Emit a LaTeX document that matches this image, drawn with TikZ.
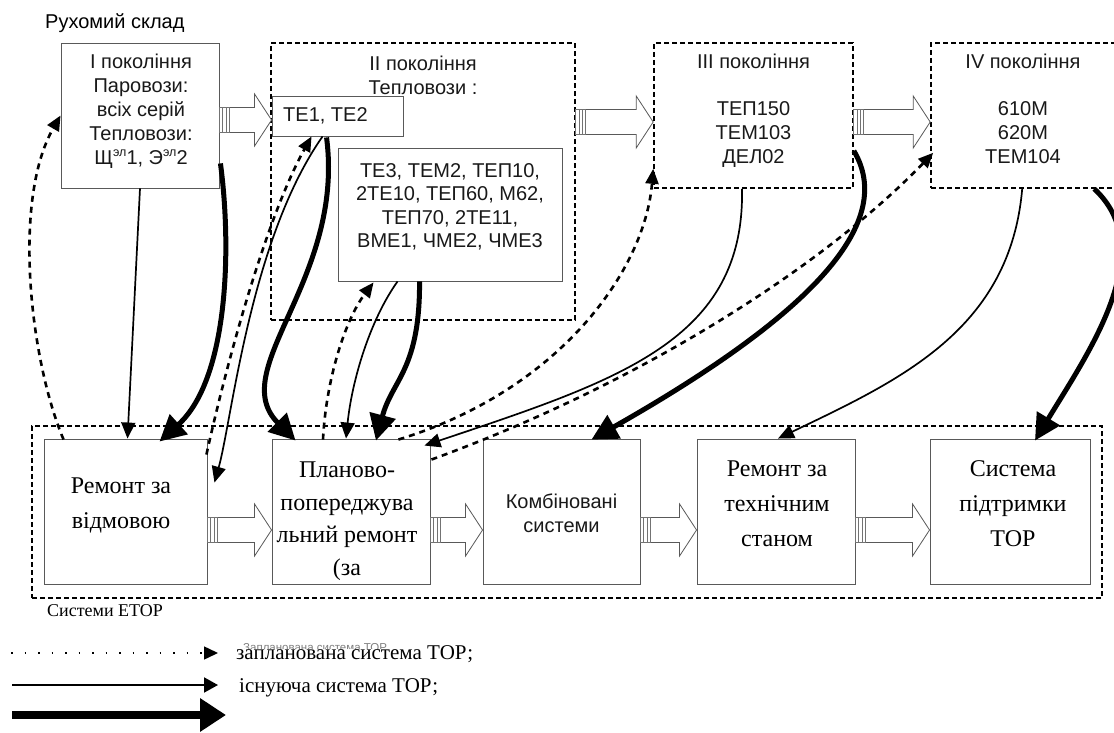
\documentclass[tikz,border=0pt]{standalone}
\usepackage{fontspec}
\setmainfont{Liberation Serif}
\setsansfont{Liberation Sans}
\usetikzlibrary{arrows.meta,calc}

\newcommand{\supsml}[1]{\raisebox{0.4em}{\fontsize{12.5}{10}\selectfont #1}}

\newcommand{\blockarr}[3]{%
 \draw[blkout] let \p1=(#1.east), \p2=(#2.west) in
   (\x1+10pt,-#3pt+12.5pt) -- (\x2-17pt,-#3pt+12.5pt) -- (\x2-17pt,-#3pt+26pt) -- (\x2,-#3pt)
   -- (\x2-17pt,-#3pt-26pt) -- (\x2-17pt,-#3pt-12.5pt) -- (\x1+10pt,-#3pt-12.5pt);
 \draw[blkstripe] let \p1=(#1.east) in
   (\x1,-#3pt+12.5pt) rectangle (\x1+10pt,-#3pt-12.5pt)
   (\x1+3.3pt,-#3pt+12.5pt) -- (\x1+3.3pt,-#3pt-12.5pt)
   (\x1+6.6pt,-#3pt+12.5pt) -- (\x1+6.6pt,-#3pt-12.5pt);
}

\tikzset{
 dbox/.style={draw=black, dash pattern=on 5pt off 3pt, line width=1.6pt, inner sep=0pt},
 sbox/.style={draw=black!65, line width=0.9pt, fill=white, inner sep=0pt},
 stxt/.style={font=\sffamily\fontsize{20}{24}\selectfont, align=center, inner sep=0pt, text=black!90},
 rtxt/.style={font=\rmfamily\fontsize{24}{35}\selectfont, align=center, inner sep=0pt},
 thickarr/.style={line width=5pt, -{Triangle[length=26pt,width=26pt]}},
 thinarr/.style={line width=1.7pt, -{Triangle[length=16pt,width=14pt]}},
 plannedarr/.style={line width=2.6pt, dash pattern=on 6pt off 5pt, -{Triangle[length=15pt,width=13pt]}},
 blkstripe/.style={draw=black!55, line width=0.7pt},
 blkout/.style={draw=black!65, line width=0.8pt, fill=white},
}

\begin{document}
\begin{tikzpicture}[x=1pt,y=-1pt]
\path[use as bounding box] (0,0) rectangle (1114,733);
\clip (0,0) rectangle (1114,733);
\fill[white] (0,0) rectangle (1114,733);

% title
\node[anchor=base west, font=\sffamily\fontsize{20}{24}\selectfont, inner sep=0pt] (title) at (45,29) {Рухомий склад};

% top boxes
\node[dbox, minimum width=304pt, minimum height=277pt] (II) at (423,181.5) {};
\node[sbox, minimum width=158pt, minimum height=145pt] (I) at (140,115.5) {};
\node[sbox, minimum width=131pt, minimum height=40pt] (TE1) at (337.5,116) {};
\node[sbox, minimum width=224pt, minimum height=133pt] (TE3) at (450,214.5) {};
\node[dbox, minimum width=199pt, minimum height=145pt] (III) at (753.5,115.5) {};
\node[dbox, minimum width=204pt, minimum height=145pt] (IV) at (1033,115.5) {};

% bottom boxes
\node[dbox, minimum width=1070pt, minimum height=172pt] (E) at (567,512) {};
\node[sbox, minimum width=163pt, minimum height=145pt] (B1) at (125.5,511.5) {};
\node[sbox, minimum width=158pt, minimum height=145pt] (B2) at (351,511.5) {};
\node[sbox, minimum width=157pt, minimum height=145pt] (B3) at (561.5,511.5) {};
\node[sbox, minimum width=158pt, minimum height=145pt] (B4) at (776,511.5) {};
\node[sbox, minimum width=160pt, minimum height=145pt] (B5) at (1010,511.5) {};

% texts top
\node[stxt] (tI) at (141,111) {І покоління\\Паровози:\\всіх серій\\Тепловози:\\Щ\supsml{эл}1, Э\supsml{эл}2};
\node[stxt] (tII) at (423,75) {ІІ покоління\\Тепловози :};
\node[stxt, anchor=base west] (tTE1) at (283,122) {ТЕ1, ТЕ2};
\node[stxt, font=\sffamily\fontsize{20}{23.5}\selectfont] (tTE3) at (450,207) {ТЕ3, ТЕМ2, ТЕП10,\\2ТЕ10, ТЕП60, М62,\\ТЕП70, 2ТЕ11,\\ВМЕ1, ЧМЕ2, ЧМЕ3};
\node[stxt, anchor=base] (tIII) at (753.5,69) {ІІІ покоління};
\node[stxt] (mIII) at (753.5,135) {ТЕП150\\ТЕМ103\\ДЕЛ02};
\node[stxt, anchor=base] (tIV) at (1023,69) {IV покоління};
\node[stxt] (mIV) at (1023,133) {610М\\620М\\ТЕМ104};

% texts bottom
\node[rtxt] (t1) at (121,505) {Ремонт за\\відмовою};
\node[rtxt, font=\rmfamily\fontsize{24}{32.5}\selectfont] (t2) at (347,521) {Планово-\\попереджува\\льний ремонт\\(за};
\node[stxt] (t3) at (561.5,513) {Комбіновані\\системи};
\node[rtxt] (t4) at (777,504) {Ремонт за\\технічним\\станом};
\node[rtxt] (t5) at (1013,504) {Система\\підтримки\\ТОР};
\node[anchor=base west, font=\rmfamily\fontsize{18}{20}\selectfont, inner sep=0pt] (etor) at (47,616) {Системи ЕТОР};

% block arrows
\blockarr{I}{TE1}{120}
\blockarr{II}{III}{122}
\blockarr{III}{IV}{122}
\blockarr{B1}{B2}{530}
\blockarr{B2}{B3}{530}
\blockarr{B3}{B4}{530}
\blockarr{B4}{B5}{530}

% connectors
\draw[plannedarr] ($(B1.north west)+(20,1)$) .. controls (30,360) and (12,200) .. (I.west);
\draw[thinarr] (I.south) -- ($(B1.north)+(2,0)$);
\draw[thickarr] ($(I.south east)+(1,-25)$) .. controls (232,250) and (228,380) .. ($(B1.north)+(34,3)$);
\draw[plannedarr] ($(B1.north east)+(-1,16)$) .. controls (225,370) and (265,220) .. ($(TE1.south west)+(40,0)$);
\draw[thinarr] ($(TE1.south west)+(51,0)$) .. controls (250,240) and (232,420) .. ($(B1.north east)+(7,44)$);
\draw[thickarr] ($(TE1.south west)+(55,1)$) .. controls (345,280) and (225,370) .. ($(B2.north west)+(24,2)$);
\draw[plannedarr] ($(B2.north)+(-28,1)$) .. controls (326,380) and (345,320) .. ($(TE3.south west)+(36,1)$);
\draw[thinarr] ($(TE3.south west)+(60,0)$) .. controls (370,320) and (352,380) .. ($(B2.north)+(-5,0)$);
\draw[thickarr] ($(TE3.south west)+(82,0)$) .. controls (420,370) and (392,380) .. ($(B2.north)+(25,2)$);
\draw[plannedarr] ($(B2.north east)+(-32,1)$) .. controls (560,390) and (645,270) .. ($(III.south west)+(0,-20)$);
\draw[thinarr] ($(III.south)+(-11.5,0)$) .. controls (745,340) and (620,380) .. ($(B2.north east)+(-6,7)$);
\draw[plannedarr] ($(B2.north east)+(1,21)$) .. controls (650,380) and (830,260) .. ($(IV.south west)+(3,-36)$);
\draw[thickarr] ($(III.south east)+(0,-38)$) .. controls (895,220) and (820,310) .. ($(B3.north)+(30,1)$);
\draw[thinarr] ($(IV.south west)+(92,0)$) .. controls (1010,330) and (900,380) .. ($(B4.north)+(2,0)$);
\draw[thickarr] ($(IV.south west)+(164,0)$) .. controls (1160,250) and (1090,350) .. ($(B5.north)+(25,2)$);

% legend
\node[anchor=base west, font=\sffamily\fontsize{11.5}{12}\selectfont, text=black!50, inner sep=0pt] (ghost) at (243,651) {Запланована система ТОР};
\node[anchor=base west, font=\rmfamily\fontsize{21}{24}\selectfont, inner sep=0pt, fill=white, text height=10pt, text depth=5pt] (lg1) at (236,659) {запланована система ТОР;};
\node[anchor=base west, font=\rmfamily\fontsize{21}{24}\selectfont, inner sep=0pt] (lg2) at (239,692) {існуюча система ТОР;};
\coordinate (l1a) at (11,653); \coordinate (l1b) at (218,653);
\coordinate (l2a) at (12,685); \coordinate (l2b) at (218,685);
\coordinate (l3a) at (12,715); \coordinate (l3b) at (226,715);
\draw[line width=1.5pt, dash pattern=on 1.5pt off 12pt, -{Triangle[length=14pt,width=13pt]}] (l1a) -- (l1b);
\draw[line width=2pt, -{Triangle[length=14pt,width=15pt]}] (l2a) -- (l2b);
\draw[line width=8pt, -{Triangle[length=26pt,width=32pt]}] (l3a) -- (l3b);
\end{tikzpicture}
\end{document}
